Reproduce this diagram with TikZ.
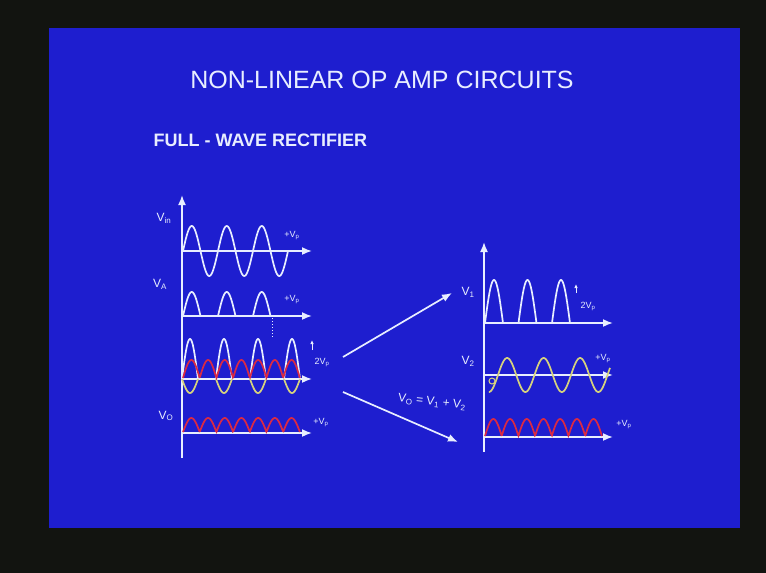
\documentclass[tikz,border=0pt]{standalone}
\usepackage{fontspec}
\setmainfont{Liberation Sans}
\usetikzlibrary{arrows.meta}
\definecolor{frame}{HTML}{121410}
\definecolor{slide}{HTML}{1E1ECF}
\definecolor{chalk}{HTML}{E8EEFF}
\definecolor{amber}{HTML}{D6D27E}
\definecolor{crimson}{HTML}{DA2A44}

\begin{document}
\begin{tikzpicture}[x=1pt, y=-1pt,
    axis/.style={draw=chalk, line width=1.7pt, -{Latex[length=10pt, width=8pt]}},
    wave/.style={draw=chalk, line width=1.7pt},
    ywave/.style={wave, draw=amber},
    rwave/.style={wave, draw=crimson},
    lab/.style={text=chalk, inner sep=0pt, font=\fontsize{12}{13}\selectfont},
    tiny/.style={lab, font=\fontsize{9}{10}\selectfont},
    tick/.style={draw=chalk, line width=0.8pt, -{Latex[length=4pt, width=3.5pt]}},
    pointer/.style={draw=chalk, line width=1.7pt, -{Latex[length=10pt, width=8pt]}}]
  \fill[frame] (0,0) rectangle (766,573);
  \fill[slide] (49,28) rectangle (740,528);
  \useasboundingbox (0,0) rectangle (766,573);

  \node[text=chalk, font=\fontsize{25}{28}\selectfont] (title) at (382,80) {NON-LINEAR OP AMP CIRCUITS};
  \node[text=chalk, font=\fontsize{18}{20}\selectfont\bfseries, anchor=west] (sub) at (150,140) {FULL - WAVE RECTIFIER};

  % left axes
  \coordinate (L0) at (182,458); \coordinate (L1) at (182,195);
  \coordinate (in0) at (182,251); \coordinate (in1) at (312,251);
  \coordinate (a0) at (182,316); \coordinate (a1) at (312,316);
  \coordinate (s0) at (182,379); \coordinate (s1) at (312,379);
  \coordinate (o0) at (182,433); \coordinate (o1) at (312,433);
  \draw[axis] (L0) -- (L1);
  \foreach \c in {in,a,s,o} \draw[axis] (\c0) -- (\c1);

  % right axes
  \coordinate (R0) at (484,452); \coordinate (R1) at (484,242);
  \coordinate (p0) at (484,323); \coordinate (p1) at (613,323);
  \coordinate (q0) at (484,375); \coordinate (q1) at (613,375);
  \coordinate (r0) at (484,437); \coordinate (r1) at (613,437);
  \draw[axis] (R0) -- (R1);
  \foreach \c in {p,q,r} \draw[axis] (\c0) -- (\c1);

  % left waves
  \draw[wave] plot[domain=0:3, samples=150, smooth] ({183+35*\x},{251-25*sin(360*\x)});
  \foreach \k in {0,1,2}
    \draw[wave] plot[domain=0:0.5, samples=40, smooth] ({183+35*\k+35*\x},{316-24*sin(360*\x)});
  \foreach \k in {0,...,3} {
    \draw[ywave] plot[domain=0:1, samples=40, smooth] ({182+34*\k+16*\x},{379+14*sin(180*\x)});
    \draw[wave] plot[domain=0:1, samples=40, smooth] ({182+34*\k+16*\x},{379-40*sin(180*\x)});
  }
  \draw[rwave] plot[domain=0:7, samples=200] ({183+16.7*\x},{378-18*abs(sin(180*\x))});
  \draw[rwave] plot[domain=0:7, samples=200] ({183+16.7*\x},{432-14*abs(sin(180*\x))});
  \coordinate (d0) at (272,318); \coordinate (d1) at (272,338);
  \draw[chalk, dotted, line width=1pt] (d0) -- (d1);

  % right waves
  \foreach \k in {0,1,2}
    \draw[wave] plot[domain=0:1, samples=40, smooth] ({485+33.5*\k+18*\x},{323-43*sin(180*\x)});
  \draw[ywave] plot[domain=-0.25:3.07, samples=200] ({498+36.5*\x},{375-17*sin(360*\x)});
  \draw[ywave, line width=1pt] (492,381) circle[radius=3pt];
  \draw[rwave] plot[domain=0:7, samples=200] ({485+16.7*\x},{436-17*abs(sin(180*\x))});

  % pointers
  \coordinate (u0) at (343,357); \coordinate (u1) at (452,293);
  \coordinate (w0) at (343,392); \coordinate (w1) at (458,442);
  \draw[pointer] (u0) -- (u1);
  \draw[pointer] (w0) -- (w1);
  \node[lab, rotate=-6] (sum) at (432,402) {V\textsubscript{O} = V\textsubscript{1} + V\textsubscript{2}};

  % labels
  \node[lab] (vin) at (164,218) {V\textsubscript{in}};
  \node[lab] (va) at (160,284) {V\textsubscript{A}};
  \node[lab] (vo) at (166,416) {V\textsubscript{O}};
  \node[lab] (v1) at (468,292) {V\textsubscript{1}};
  \node[lab] (v2) at (468,361) {V\textsubscript{2}};
  \node[tiny] (pin) at (292,236) {+V\textsubscript{p}};
  \node[tiny] (pa) at (292,300) {+V\textsubscript{p}};
  \node[tiny] (po) at (321,423) {+V\textsubscript{p}};
  \node[tiny] (pq) at (603,359) {+V\textsubscript{p}};
  \node[tiny] (pr) at (624,425) {+V\textsubscript{p}};
  \coordinate (t0) at (312,350); \coordinate (t1) at (312,340);
  \draw[tick] (t0) -- (t1);
  \node[tiny] (ts) at (322,362) {2V\textsubscript{p}};
  \coordinate (k0) at (576,293); \coordinate (k1) at (576,284);
  \draw[tick] (k0) -- (k1);
  \node[tiny] (tp) at (588,306) {2V\textsubscript{p}};
\end{tikzpicture}
\end{document}
